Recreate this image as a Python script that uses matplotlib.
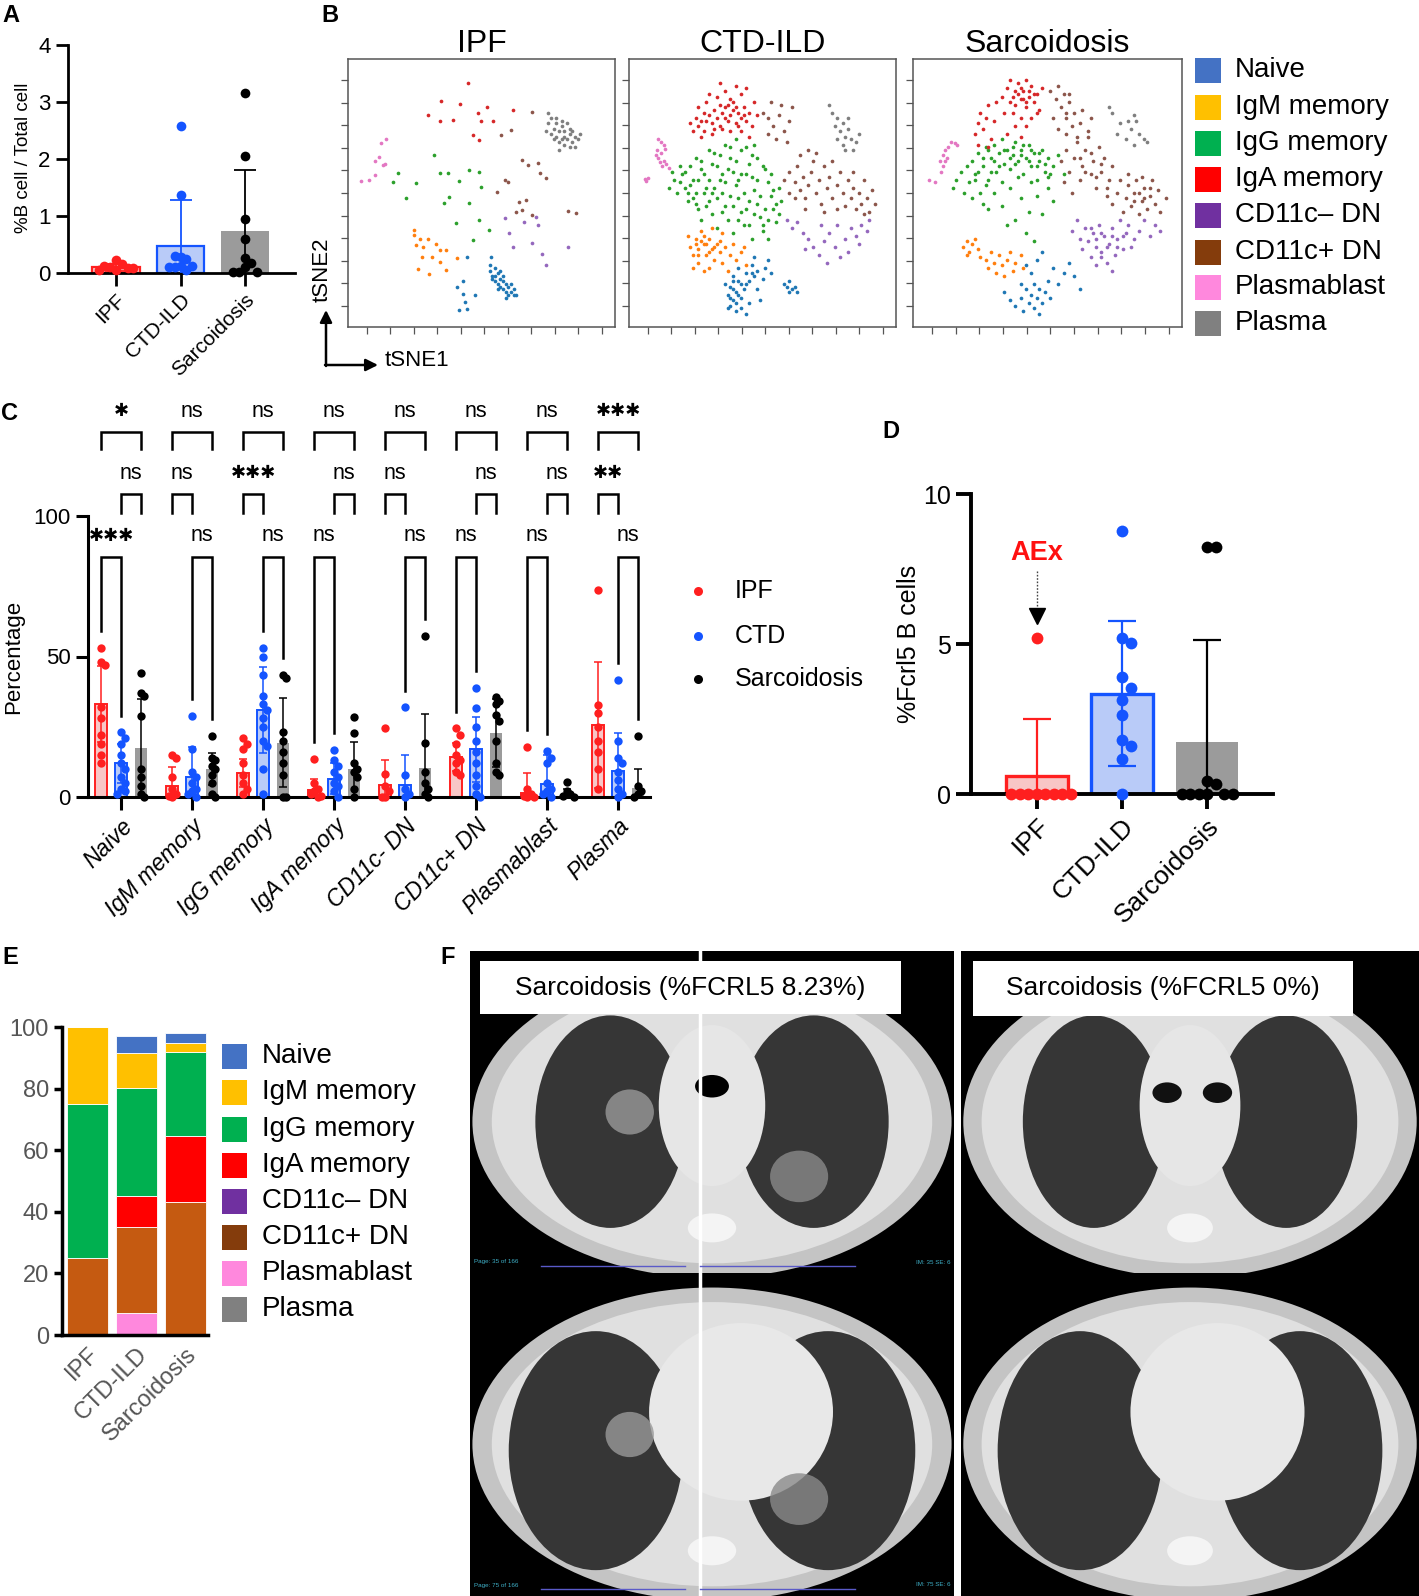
import numpy as np
import matplotlib
matplotlib.use("Agg")
import matplotlib.pyplot as plt
from matplotlib.patches import Rectangle, Ellipse, Circle

plt.rcParams['font.family'] = ['Liberation Sans', 'DejaVu Sans']

W, H = 1419, 1596

# ---------------- dane ----------------
groups = ["IPF", "CTD-ILD", "Sarcoidosis"]

# panel A: %B cell / total cell
a_mean = [0.1, 0.48, 0.73]
a_sd = [0.06, 0.8, 1.07]
a_ipf = [0.05, 0.15, 0.1, 0.08, 0.22, 0.12, 0.08, 0.05]
a_ctd = [2.58, 1.37, 0.28, 0.25, 0.3, 0.12, 0.1, 0.12, 0.05, 0.1]
a_sarc = [3.15, 2.05, 0.95, 0.6, 0.27, 0.17, 0.1, 0.02, 0.02, 0.02]

# panel B: tSNE (wspolrzedne 0-100 w ramce)
subsets = ["Naive", "IgM memory", "IgG memory", "IgA memory", "CD11c\u2013 DN", "CD11c+ DN", "Plasmablast", "Plasma"]
tsne_colors = ["#1f77b4", "#ff7f0e", "#2ca02c", "#d62728", "#9467bd", "#8c564b", "#e377c2", "#7f7f7f"]
legend_colors = ["#4472C4", "#FFC000", "#00B050", "#FF0000", "#7030A0", "#843C0C", "#FF88DD", "#808080"]

tsne_ipf = {
    "Naive": [(53, 21), (54, 19), (55, 22), (56, 20), (57, 18), (58, 19), (55, 17), (56, 16), (57, 15), (58, 14),
              (59, 16), (60, 15), (61, 13), (62, 12), (60, 12), (59, 13), (54, 18), (56, 14), (58, 17), (61, 16),
              (57, 21), (62, 14), (63, 12), (55, 19), (59, 11), (44.7, 26.2), (53.5, 26.2), (53, 23), (41, 15),
              (43.2, 12.5), (41.7, 6.2), (44.7, 6.9), (47.6, 11.8), (44, 9.4), (43, 17)],
    "IgM memory": [(24.8, 36.2), (24.8, 34.3), (25.5, 30.5), (27, 33), (30, 33), (27.7, 26.2), (31.4, 26.2),
                   (34.4, 28.7), (36.6, 28.7), (26.2, 21.8), (30.4, 19.7), (34.4, 24.3), (36.6, 21.2),
                   (40.7, 25.6), (28, 30), (33, 31)],
    "IgG memory": [(32.2, 64.2), (18.9, 57.6), (16.7, 54.2), (25.5, 53.6), (34.4, 57.4), (37.3, 57.4),
                   (41.7, 54.5), (45.4, 58.6), (49.1, 58), (49.9, 52.4), (38, 48.6), (21.8, 48), (35.8, 46.1),
                   (45.4, 46.1), (40.3, 38.7), (49.1, 39.9), (46.9, 32.4), (52.8, 36.2)],
    "IgA memory": [(45, 91), (35, 84.5), (42, 83.3), (30, 79), (34.4, 77), (39.5, 77.3), (48.7, 80), (52, 82),
                   (49.8, 77), (54.3, 76.7), (46.9, 71.7), (61.7, 81), (49, 69.8)],
    "CD11c\u2013 DN": [(58.7, 40.5), (66.1, 39.3), (70.5, 41.1), (71.2, 38), (60.2, 34.9), (61.7, 29.9),
                       (69, 31.2), (72.7, 27.4), (74.2, 23.1), (82.3, 29.9)],
    "CD11c+ DN": [(57.2, 71.7), (61, 73.6), (69, 80.4), (65.3, 62.3), (67.5, 60.5), (71, 61.1), (72, 57.4),
                  (58.7, 54.9), (60, 54.2), (55.8, 50.5), (63.9, 46.8), (65.3, 43.6), (63.1, 43), (66.8, 47.4),
                  (74.2, 55.5), (82.3, 43.4), (85.3, 42.6), (69, 41.8)],
    "Plasmablast": [(12.4, 68.6), (14.2, 70), (11.5, 63.6), (10, 62), (13, 60.5), (4.9, 54.5), (7.8, 54.9),
                    (10, 56.7), (13.7, 61)],
    "Plasma": [(75, 80), (76, 78), (78, 76), (80, 75), (77, 74), (79, 73), (81, 73), (83, 72), (85, 71), (87, 72),
               (76, 72), (78, 71), (80, 70), (82, 70), (84, 69), (79, 69), (81, 68), (83, 67), (77, 70), (80, 77),
               (82, 76), (74, 73), (86, 70), (78, 78), (84, 73), (81, 71), (75, 76), (83, 74), (79, 66), (85, 67)],
}

tsne_ctd = {
    "Naive": [(37, 12), (38, 15), (39, 10), (40, 13), (41, 17), (38, 8), (40, 6), (42, 11), (43, 14), (44, 20),
              (45, 17), (46, 23), (47, 19), (48, 14), (49, 10), (50, 18), (51, 22), (52, 25), (39, 19), (36, 16),
              (42, 7), (45, 9), (47, 26), (53, 20), (44, 5), (41, 22), (58, 16), (59, 15), (60, 17), (61, 14),
              (62, 15), (63, 13), (60, 13), (38, 11), (39, 14), (40, 9), (41, 12), (37, 7), (39, 17), (42, 16),
              (44, 16), (46, 20), (48, 21)],
    "IgM memory": [(22, 34), (23, 30), (24, 27), (25, 33), (26, 29), (27, 36), (28, 31), (29, 27), (30, 33),
                   (31, 29), (32, 25), (33, 31), (34, 28), (35, 24), (36, 30), (38, 27), (40, 25), (42, 28),
                   (44, 23), (26, 24), (24, 22), (28, 21), (31, 37), (35, 35), (39, 31), (43, 30), (30, 22),
                   (37, 21), (25, 31), (27, 32), (29, 31), (30, 28), (32, 30), (28, 34), (34, 32), (26, 27)],
    "IgG memory": [(15, 52), (17, 55), (18, 50), (20, 57), (21, 52), (22, 47), (23, 60), (24, 55), (25, 50),
                   (26, 44), (27, 62), (28, 57), (29, 52), (30, 47), (31, 42), (32, 65), (33, 60), (34, 55),
                   (35, 50), (36, 45), (37, 40), (38, 63), (39, 58), (40, 53), (41, 48), (42, 43), (43, 38),
                   (44, 67), (45, 61), (46, 56), (47, 51), (48, 46), (49, 41), (50, 36), (51, 59), (52, 54),
                   (53, 49), (54, 44), (55, 39), (56, 52), (57, 47), (40, 70), (36, 68), (30, 66), (25, 63),
                   (19, 60), (16, 58), (27, 40), (33, 37), (39, 35), (46, 33), (52, 33), (44, 44), (38, 49),
                   (32, 52), (42, 57), (48, 63), (35, 57), (29, 45), (24, 48), (21, 58), (23, 53), (25, 46),
                   (27, 59), (28, 50), (30, 55), (31, 61), (33, 48), (34, 64), (36, 54), (37, 59), (39, 45),
                   (40, 62), (41, 55), (43, 50), (44, 57), (45, 47), (46, 64), (47, 42), (48, 55), (49, 49),
                   (50, 60), (51, 44), (52, 40), (53, 57), (54, 51), (55, 46), (56, 42), (50, 38), (45, 38),
                   (41, 40), (35, 43), (31, 50), (26, 55), (22, 50), (19, 54), (42, 66), (47, 68), (38, 67)],
    "IgA memory": [(23, 76), (25, 78), (27, 77), (28, 80), (30, 79), (31, 76), (32, 81), (33, 78), (34, 75),
                   (35, 80), (36, 82), (37, 77), (38, 79), (39, 84), (40, 76), (41, 80), (42, 78), (43, 82),
                   (44, 77), (45, 80), (46, 75), (29, 84), (33, 86), (36, 88), (40, 90), (42, 87), (26, 82),
                   (24, 73), (28, 73), (31, 72), (35, 74), (38, 73), (42, 73), (45, 71), (47, 84), (44, 89),
                   (38, 85), (30, 87), (34, 91), (48, 79), (27, 71), (39, 81), (41, 75), (32, 74), (34, 83),
                   (37, 83), (40, 82), (43, 79), (29, 77), (26, 75), (36, 78)],
    "CD11c\u2013 DN": [(59, 40), (61, 37), (63, 39), (65, 35), (67, 33), (69, 30), (71, 27), (73, 32), (75, 35),
                       (77, 30), (79, 26), (81, 33), (83, 37), (85, 34), (87, 38), (89, 36), (90, 40), (78, 38),
                       (72, 38), (66, 29), (74, 24), (82, 28), (86, 31)],
    "CD11c+ DN": [(50, 80), (52, 78), (54, 75), (56, 79), (58, 73), (60, 77), (55, 70), (52, 72), (57, 83),
                  (61, 82), (53, 84), (59, 69), (58, 55), (60, 58), (62, 54), (63, 60), (64, 51), (65, 56),
                  (66, 48), (67, 53), (68, 58), (69, 62), (70, 50), (71, 55), (72, 46), (73, 60), (74, 52),
                  (62, 48), (60, 50), (64, 64), (67, 66), (70, 65), (75, 56), (76, 48), (78, 53), (79, 58),
                  (80, 50), (81, 45), (82, 55), (83, 48), (84, 52), (85, 44), (86, 50), (87, 46), (88, 55),
                  (89, 48), (90, 43), (91, 51), (92, 46), (84, 58), (88, 42), (78, 44), (73, 43), (76, 62), (66, 44)],
    "Plasmablast": [(11, 70), (12, 69), (13, 68), (10.5, 66), (12, 65), (11, 63), (13, 62), (14, 61), (10, 64),
                    (12.5, 60), (15, 59.5), (11.5, 61.5), (5.9, 55.2), (6.5, 54.5), (7, 55.5), (13.5, 66.5)],
    "Plasma": [(76, 80), (78, 78), (80, 76), (82, 74), (79, 73), (81, 71), (83, 70), (85, 69), (77, 75),
               (80, 68), (84, 66), (86, 72), (75, 83), (82, 78), (78, 70), (81, 66)],
}

tsne_sarc = {
    "Naive": [(34, 13), (36, 10), (38, 8), (40, 11), (41, 6), (42, 14), (43, 9), (44, 12), (45, 16), (46, 11),
              (47, 14), (48, 9), (49, 13), (50, 17), (47, 5), (44, 20), (46, 25), (48, 28), (42, 23), (52, 22),
              (54, 16), (56, 20), (58, 24), (60, 19), (62, 14), (51, 11), (45, 7), (40, 16)],
    "IgM memory": [(18.5, 30), (20, 32), (21, 28), (22, 31), (23, 33), (20, 27), (24, 29), (25, 26), (27, 25),
                   (28, 22), (29, 28), (30, 24), (31, 20), (32, 27), (33, 23), (34, 19), (35, 25), (36, 28),
                   (38, 24), (40, 27), (41, 22), (37, 21)],
    "IgG memory": [(15, 52), (16, 55), (18, 58), (19, 50), (20, 60), (21, 54), (22, 62), (23, 57), (24, 65),
                   (25, 50), (26, 60), (27, 67), (28, 55), (29, 63), (30, 68), (31, 58), (32, 65), (33, 70),
                   (34, 61), (35, 66), (36, 59), (37, 64), (38, 69), (39, 62), (40, 66), (41, 57), (42, 63),
                   (43, 68), (44, 60), (45, 65), (46, 55), (47, 62), (48, 66), (49, 58), (50, 63), (52, 60),
                   (54, 64), (56, 57), (30, 50), (33, 45), (36, 52), (40, 48), (43, 43), (46, 49), (38, 40),
                   (42, 35), (48, 42), (52, 47), (35, 38), (28, 44), (45, 32), (50, 52), (26, 46), (22, 48),
                   (24, 58), (26, 63), (28, 66), (30, 62), (32, 60), (34, 66), (36, 63), (37, 67), (38, 61),
                   (40, 64), (41, 68), (43, 62), (44, 66), (46, 60), (47, 65), (49, 61), (51, 57), (29, 58),
                   (27, 53), (23, 55), (33, 54), (39, 56), (44, 54), (50, 56)],
    "IgA memory": [(23, 72), (24, 76), (25, 80), (26, 74), (27, 78), (28, 83), (29, 70), (30, 77), (24, 68),
                   (28, 67), (33, 86), (35, 89), (36, 84), (38, 88), (39, 91), (40, 85), (41, 88), (42, 82),
                   (43, 86), (44, 90), (45, 84), (46, 87), (47, 81), (48, 89), (37, 80), (34, 80), (40, 78),
                   (44, 78), (38, 75), (42, 75), (31, 84), (36, 92), (42, 92), (46, 80), (35, 72), (40, 71),
                   (39, 87), (41, 85), (43, 88), (40, 89), (37, 86), (45, 87), (38, 83), (42, 84)],
    "CD11c\u2013 DN": [(59, 36), (61, 40), (62, 33), (63, 29), (64, 37), (65, 32), (66, 26), (67, 35), (68, 30),
                       (69, 38), (70, 28), (71, 34), (72, 24), (73, 31), (74, 37), (75, 27), (76, 33), (77, 40),
                       (78, 29), (79, 35), (80, 38), (82, 33), (84, 36), (86, 40), (88, 34), (90, 38), (92, 36),
                       (68, 23), (74, 21), (81, 30), (68, 33), (70, 35), (72, 30), (74, 34), (76, 30), (78, 34),
                       (66, 37), (70, 26)],
    "CD11c+ DN": [(51, 88), (53, 85), (54, 90), (55, 82), (56, 87), (57, 78), (58, 84), (59, 75), (60, 80),
                  (52, 78), (54, 74), (61, 71), (62, 76), (63, 81), (65, 73), (66, 78), (57, 72), (55, 62),
                  (57, 66), (58, 58), (60, 63), (61, 69), (62, 55), (63, 60), (64, 66), (65, 71), (66, 57),
                  (67, 62), (68, 52), (69, 67), (70, 58), (71, 63), (72, 49), (73, 55), (74, 60), (59, 50),
                  (56, 54), (72, 52), (74, 46), (76, 50), (77, 55), (78, 43), (79, 48), (80, 53), (81, 45),
                  (82, 50), (83, 55), (84, 42), (85, 47), (86, 52), (87, 44), (88, 49), (89, 55), (90, 46),
                  (91, 51), (92, 43), (94, 48), (80, 57), (85, 56), (62, 63), (64, 58), (66, 65), (82, 47),
                  (84, 50), (86, 48), (88, 52), (70, 61), (68, 56), (57, 80), (58, 87)],
    "Plasmablast": [(6, 55), (8, 54), (10, 62), (11, 64), (12, 66), (13, 67), (14, 69), (15.5, 68.5), (12, 62),
                    (11, 60), (10.5, 58), (12.5, 63), (16.5, 68)],
    "Plasma": [(73, 82), (74, 80), (77, 76), (80, 77), (82, 79), (83, 77), (81, 74), (84, 72), (86, 70),
               (79, 70), (82, 68), (87, 69), (76, 72)],
}

# panel C: odsetki podgrup B
c_cats = ["Naive", "IgM memory", "IgG memory", "IgA memory", "CD11c- DN", "CD11c+ DN", "Plasmablast", "Plasma"]
c_ipf_mean = [33, 4, 8.5, 2.5, 4.4, 14.3, 1.5, 25.6]
c_ipf_sd = [13.5, 6.7, 5, 4, 8.9, 5, 7.1, 22.3]
c_ctd_mean = [12, 7, 31, 6.5, 4.4, 17, 4.8, 9.3]
c_ctd_sd = [7, 10.8, 15.4, 5.5, 10.5, 11.6, 10.1, 13.6]
c_sarc_mean = [17.3, 10, 19.3, 9.8, 10.4, 22.9, 0.5, 3.3]
c_sarc_sd = [17.7, 5.7, 15.8, 9.8, 19, 12.1, 2.5, 6.8]
c_ipf_pts = [[53, 48, 47, 32, 28, 22, 19, 15, 12], [15, 14, 7, 3, 1, 0.5, 0], [21, 19, 17, 12, 8, 5, 3, 1],
             [13.7, 5, 3, 2, 1, 0.5, 0], [24.6, 8.3, 4, 2, 0, 0], [24.4, 22, 19, 15, 13, 12, 9, 8],
             [17.9, 3, 1, 0.5, 0, 0], [73.8, 32.7, 29.8, 25, 20, 16, 10, 3]]
c_ctd_pts = [[23, 21, 19, 15, 12, 10, 7, 5, 3, 2, 1], [29, 17, 9, 7, 5, 3, 2, 1, 0],
             [53, 50, 43.5, 36, 33, 31, 28, 25, 20, 18, 10, 1], [16.7, 13, 11, 9, 7, 5, 4, 2, 0],
             [31.9, 8, 3, 1, 0], [38.7, 31.5, 25, 20, 16, 12, 8, 4, 1, 0], [16.3, 14, 12, 5, 3, 2, 1, 0],
             [41.7, 20, 14, 12, 9, 6, 3, 1, 0]]
c_sarc_pts = [[44, 37, 36, 29, 10, 7, 4, 1, 0], [21.7, 14, 13, 11, 10, 8, 5, 1, 0],
              [43.5, 42.5, 23, 20, 16, 12, 8, 0, 0], [28.3, 22.6, 12, 10, 9, 7, 3, 0],
              [57.4, 19.3, 9, 5, 3, 1, 0], [35.7, 34, 33, 29.2, 27, 20, 12, 9, 8], [5.4, 2, 1, 0.5, 0],
              [21.7, 4, 2, 1, 0]]
# porownania: I=IPF, C=CTD, S=Sarcoidosis
c_top_labels = ["*", "ns", "ns", "ns", "ns", "ns", "ns", "***"]
c_mid_pairs = ["CS", "IC", "IC", "CS", "IC", "CS", "CS", "IC"]
c_mid_labels = ["ns", "ns", "***", "ns", "ns", "ns", "ns", "**"]
c_low_pairs = ["IC", "CS", "CS", "IC", "CS", "IC", "IC", "CS"]
c_low_labels = ["***", "ns", "ns", "ns", "ns", "ns", "ns", "ns"]

# panel D: %Fcrl5 B cells
d_mean = [0.6, 3.34, 1.72]
d_sd = [1.9, 2.42, 3.43]
d_ipf = [5.2, 0, 0, 0, 0, 0, 0, 0, 0]
d_ctd = [8.76, 5.2, 5.03, 3.89, 3.53, 3.14, 2.64, 1.81, 1.59, 1.18, 0]
d_sarc = [8.23, 8.23, 0.44, 0.34, 0, 0, 0, 0, 0, 0]

# panel E: skumulowane udzialy
e_naive = [0, 5.6, 3.3]
e_igm = [25, 11.3, 2.8]
e_igg = [50, 35.1, 27.2]
e_iga = [0, 10, 21.6]
e_cd11c_neg = [0, 0, 0]
e_cd11c_pos = [24.9, 28, 43.1]
e_plasmablast = [0, 7.2, 0]
e_plasma = [0, 0, 0]
e_bar_colors = ["#4472C4", "#FFC000", "#00B050", "#FF0000", "#7030A0", "#C55A11", "#FF88DD", "#808080"]

f_titles = ["Sarcoidosis (%FCRL5 8.23%)", "Sarcoidosis (%FCRL5 0%)"]

RED, RED_FILL = "#FF1F1F", "#F8C6C6"
BLUE, BLUE_FILL = "#1454FF", "#B9CBF8"
GREY_FILL = "#9B9B9B"

fig = plt.figure(figsize=(W / 100, H / 100), dpi=100)


def px_axes(x0, y0, x1, y1):
    return fig.add_axes([x0 / W, 1 - y1 / H, (x1 - x0) / W, (y1 - y0) / H])


def prism(ax, lw, tl):
    ax.spines[['top', 'right']].set_visible(False)
    ax.spines[['left', 'bottom']].set_linewidth(lw)
    ax.tick_params(width=lw, length=tl, direction='out')


def swarm(vals, dy, dx):
    # proste ukladanie kropek obok siebie, gdy wartosci sa blisko
    placed, offs = [], []
    seq = [0, 1, -1, 2, -2, 3, -3, 4, -4, 5, -5, 6, -6]
    for v in vals:
        for s in seq:
            if all(not (o == s and abs(pv - v) < dy) for o, pv in placed):
                break
        placed.append((s, v))
        offs.append(s * dx)
    return np.array(offs)


def column(ax, x, mean, sd, pts, fill, edge, dot, width, ms, dy, dx, elw, cap, blw):
    ax.bar(x, mean, width, color=fill, edgecolor=edge if edge else 'none', linewidth=blw, zorder=2)
    ax.errorbar(x, mean, yerr=sd, fmt='none', ecolor=edge if edge else 'black', elinewidth=elw,
                capsize=cap, capthick=elw, zorder=3)
    offs = swarm(pts, dy, dx)
    ax.plot(x + offs, pts, 'o', ms=ms, color=dot, mec='none', clip_on=False, zorder=4)


# ---------------- A ----------------
axA = px_axes(68, 45, 295, 273)
prism(axA, 2.0, 9)
a_pts = [a_ipf, a_ctd, a_sarc]
a_style = [(RED_FILL, RED, RED), (BLUE_FILL, BLUE, BLUE), (GREY_FILL, None, 'black')]
for i in range(3):
    fill, edge, dot = a_style[i]
    column(axA, i, a_mean[i], a_sd[i], a_pts[i], fill, edge, dot, 0.73, 7, 0.16, 0.09, 1.3, 8, 1.6)
axA.set_ylim(0, 4)
axA.set_xlim(-0.744, 2.775)
axA.set_yticks([0, 1, 2, 3, 4])
axA.set_xticks([0, 1, 2])
axA.set_xticklabels(groups, rotation=45, ha='right', rotation_mode='anchor', fontsize=15)
axA.tick_params(axis='y', labelsize=16)

# ---------------- B ----------------
b_boxes = [(348, 59, 615, 327), (629, 59, 896, 327), (913, 59, 1182, 327)]
b_data = [tsne_ipf, tsne_ctd, tsne_sarc]
for (x0, y0, x1, y1), data, name in zip(b_boxes, b_data, groups):
    ax = px_axes(x0, y0, x1, y1)
    for sub, col in zip(subsets, tsne_colors):
        pts = np.array(data[sub])
        ax.scatter(pts[:, 0], pts[:, 1], s=7, color=col, linewidths=0)
    ax.set_xlim(0, 100)
    ax.set_ylim(0, 100)
    ax.set_xticks(np.linspace(7, 95, 11))
    ax.set_yticks(np.linspace(8, 92, 11))
    ax.tick_params(length=5, width=0.9, color='#555555', labelbottom=False, labelleft=False)
    for s in ax.spines.values():
        s.set_color('#555555')
        s.set_linewidth(1.1)
    ax.set_title(name, fontsize=23, pad=4)

# ---------------- C ----------------
axC = px_axes(88, 516, 650, 797)
prism(axC, 2.2, 9)
cx = np.arange(len(c_cats))
off = 0.28
pos = {"I": -off, "C": 0.0, "S": off}
tops = []
for i in range(len(c_cats)):
    column(axC, i - off, c_ipf_mean[i], c_ipf_sd[i], c_ipf_pts[i], RED_FILL, RED, RED, 0.17, 6, 2.6, 0.05, 1.1, 3, 1.4)
    column(axC, i, c_ctd_mean[i], c_ctd_sd[i], c_ctd_pts[i], BLUE_FILL, BLUE, BLUE, 0.17, 6, 2.6, 0.05, 1.1, 3, 1.4)
    column(axC, i + off, c_sarc_mean[i], c_sarc_sd[i], c_sarc_pts[i], GREY_FILL, None, 'black', 0.17, 6, 2.6, 0.05, 1.1, 3, 1.4)
    tops.append({"I": max(max(c_ipf_pts[i]), c_ipf_mean[i] + c_ipf_sd[i]),
                 "C": max(max(c_ctd_pts[i]), c_ctd_mean[i] + c_ctd_sd[i]),
                 "S": max(max(c_sarc_pts[i]), c_sarc_mean[i] + c_sarc_sd[i])})
axC.set_ylim(0, 100)
axC.set_xlim(-0.465, 7.45)
axC.set_yticks([0, 50, 100])
axC.set_xticks(cx)
axC.set_xticklabels(c_cats, rotation=45, ha='right', rotation_mode='anchor', fontsize=16.5, style='italic')
axC.tick_params(axis='y', labelsize=16)


def sig_text(ax, x, y, label):
    if label == "ns":
        ax.text(x, y, label, ha='center', va='center', fontsize=15.5, clip_on=False)
    else:
        ax.text(x, y, "\u2731" * len(label), ha='center', va='center', fontsize=13,
                family='DejaVu Sans', fontweight='bold', clip_on=False)


def bracket(ax, x0, x1, ytop, yl0, yl1, label):
    ax.plot([x0, x0, x1, x1], [yl0, ytop, ytop, yl1], color='black', lw=1.8, clip_on=False,
            solid_joinstyle='miter', zorder=5)
    sig_text(ax, (x0 + x1) / 2, ytop + 7.5, label)


for i in range(len(c_cats)):
    bracket(axC, i - off, i + off, 129.8, 123.8, 123.8, c_top_labels[i])
    p = c_mid_pairs[i]
    bracket(axC, i + pos[p[0]], i + pos[p[1]], 107.7, 101.2, 101.2, c_mid_labels[i])
    p = c_low_pairs[i]
    bracket(axC, i + pos[p[0]], i + pos[p[1]], 85.5, tops[i][p[0]] + 6, tops[i][p[1]] + 6, c_low_labels[i])

# ---------------- D ----------------
axD = px_axes(971, 494, 1273, 794)
prism(axD, 2.8, 11)
d_pts = [d_ipf, d_ctd, d_sarc]
for i in range(3):
    fill, edge, dot = a_style[i]
    column(axD, i, d_mean[i], d_sd[i], d_pts[i], fill, edge, dot, 0.74, 8.5, 0.38, 0.1, 1.6, 10, 2.4)
axD.set_ylim(0, 10)
axD.set_xlim(-0.776, 2.776)
axD.set_yticks([0, 5, 10])
axD.set_xticks([0, 1, 2])
axD.set_xticklabels(groups, rotation=45, ha='right', rotation_mode='anchor', fontsize=19)
axD.tick_params(axis='y', labelsize=18)
axD.text(0, 8.03, "AEx", color='#FF1010', fontsize=19.5, fontweight='bold', ha='center', va='center')
axD.plot([0, 0], [7.42, 6.15], color='#444444', lw=1.0, ls=(0, (1.2, 1.2)))
axD.plot([0], [5.94], marker='v', ms=11, color='black', mec='black', clip_on=False)

# ---------------- E ----------------
axE = px_axes(62, 1027, 208, 1335)
prism(axE, 2.5, 6)
stack = [e_plasma, e_plasmablast, e_cd11c_pos, e_cd11c_neg, e_iga, e_igg, e_igm, e_naive]
stack_cols = e_bar_colors[::-1]
bottom = np.zeros(3)
for vals, col in zip(stack, stack_cols):
    axE.bar(np.arange(3), vals, 0.84, bottom=bottom, color=col, edgecolor='white', linewidth=0.6, zorder=2)
    bottom += np.array(vals)
axE.set_ylim(0, 100)
axE.set_xlim(-0.523, 2.47)
axE.set_yticks(np.arange(0, 101, 20))
axE.set_xticks([0, 1, 2])
axE.set_xticklabels(groups, rotation=45, ha='right', rotation_mode='anchor', fontsize=17, color='#555555')
axE.tick_params(axis='x', length=0, pad=6)
axE.tick_params(axis='y', labelsize=17, labelcolor='#555555')


# ---------------- F (schematyczne przekroje CT) ----------------
def draw_ct(ax, lower, sick):
    ax.set_xlim(0, 1)
    ax.set_ylim(0, 1)
    ax.set_xticks([])
    ax.set_yticks([])
    ax.set_facecolor('black')
    for s in ax.spines.values():
        s.set_visible(False)
    ax.add_patch(Ellipse((0.5, 0.47), 0.99, 0.97, fc='#c4c4c4', ec='none'))
    ax.add_patch(Ellipse((0.5, 0.47), 0.91, 0.88, fc='#e0e0e0', ec='none'))
    lung = '#363636'
    if not lower:
        ax.add_patch(Ellipse((0.29, 0.47), 0.31, 0.66, fc=lung, ec='none'))
        ax.add_patch(Ellipse((0.71, 0.47), 0.31, 0.66, fc=lung, ec='none'))
        ax.add_patch(Ellipse((0.5, 0.52), 0.22, 0.5, fc='#e6e6e6', ec='none'))
        if sick:
            ax.add_patch(Circle((0.5, 0.58), 0.035, fc='black'))
        else:
            ax.add_patch(Circle((0.45, 0.56), 0.032, fc='#111111'))
            ax.add_patch(Circle((0.56, 0.56), 0.032, fc='#111111'))
    else:
        ax.add_patch(Ellipse((0.26, 0.45), 0.36, 0.74, fc=lung, ec='none'))
        ax.add_patch(Ellipse((0.74, 0.45), 0.36, 0.74, fc=lung, ec='none'))
        ax.add_patch(Ellipse((0.56, 0.57), 0.38, 0.55, fc='#e8e8e8', ec='none'))
    ax.add_patch(Ellipse((0.5, 0.14), 0.1, 0.09, fc='#f4f4f4', ec='none'))
    if sick:
        ax.add_patch(Ellipse((0.33, 0.5), 0.1, 0.14, fc='#9a9a9a', ec='none', alpha=0.8))
        ax.add_patch(Ellipse((0.68, 0.3), 0.12, 0.16, fc='#8a8a8a', ec='none', alpha=0.8))


f_boxes = [(470, 951, 954, 1273, False, True), (470, 1273, 954, 1596, True, True),
           (961, 951, 1419, 1273, False, False), (961, 1273, 1419, 1596, True, False)]
for x0, y0, x1, y1, lower, sick in f_boxes:
    draw_ct(px_axes(x0, y0, x1, y1), lower, sick)

# ---------------- nakladka w pikselach ----------------
ov = fig.add_axes([0, 0, 1, 1])
ov.set_xlim(0, W)
ov.set_ylim(H, 0)
ov.axis('off')

for letter, (x, y) in zip("ABCDEF", [(11, 15), (330, 15), (10, 413), (891, 431), (10, 957), (448, 957)]):
    ov.text(x, y, letter, fontsize=17, fontweight='bold', ha='center', va='center')

# strzalki tSNE
ov.annotate('', xy=(326, 310), xytext=(326, 366),
            arrowprops=dict(arrowstyle='-|>', lw=1.8, color='black', mutation_scale=18, shrinkA=0, shrinkB=0))
ov.annotate('', xy=(378, 365), xytext=(325, 365),
            arrowprops=dict(arrowstyle='-|>', lw=1.8, color='black', mutation_scale=18, shrinkA=0, shrinkB=0))
ov.text(322, 270, "tSNE2", rotation=90, fontsize=16, ha='center', va='center')
ov.text(417, 361, "tSNE1", fontsize=16, ha='center', va='center')

# legenda B
b_rows = [70, 107, 143, 179, 215, 252, 287, 323]
for y, name, col in zip(b_rows, subsets, legend_colors):
    ov.add_patch(Rectangle((1195, y - 12.5), 26, 25, fc=col, ec='none'))
    ov.text(1235, y, name, fontsize=20, va='center', ha='left')

# legenda E
e_rows = [1056, 1092, 1129, 1165, 1201, 1237, 1273, 1309]
for y, name, col in zip(e_rows, subsets, legend_colors):
    ov.add_patch(Rectangle((222, y - 12.5), 25, 25, fc=col, ec='none'))
    ov.text(262, y, name, fontsize=20, va='center', ha='left')

# legenda C
for y, name, col in zip([591, 636, 679], ["IPF", "CTD", "Sarcoidosis"], [RED, BLUE, 'black']):
    ov.plot([698], [y], 'o', ms=6.5, color=col, mec='none')
    ov.text(735, y, name, fontsize=18, va='center', ha='left')

# etykiety osi
ov.text(24, 158, "%B cell / Total cell", rotation=90, fontsize=13.5, ha='center', va='center')
ov.text(14, 657, "Percentage", rotation=90, fontsize=16, ha='center', va='center')
ov.text(909, 644, "%Fcrl5 B cells", rotation=90, fontsize=18, ha='center', va='center')

# F: linia podzialu, podpisy
ov.plot([700, 700], [951, 1596], color='white', lw=2.5)
for (x0, y0, x1, y1), title in zip([(480, 961, 901, 1014), (973, 961, 1353, 1016)], f_titles):
    ov.add_patch(Rectangle((x0, y0), x1 - x0, y1 - y0, fc='white', ec='none'))
    ov.text((x0 + x1) / 2, (y0 + y1) / 2, title, fontsize=19, ha='center', va='center')
for yb, pg in [(1262, "35"), (1585, "75")]:
    ov.text(474, yb, f"Page: {pg} of 166", fontsize=4.5, color='#3fb0c8', va='center')
    ov.text(950, yb, f"IM: {pg} SE: 6", fontsize=4.5, color='#3fb0c8', va='center', ha='right')
    ov.plot([541, 685], [yb + 4, yb + 4], color='#5a5ac8', lw=1)
    ov.plot([700, 855], [yb + 4, yb + 4], color='#5a5ac8', lw=1)

fig.savefig("out.png", dpi=100)
